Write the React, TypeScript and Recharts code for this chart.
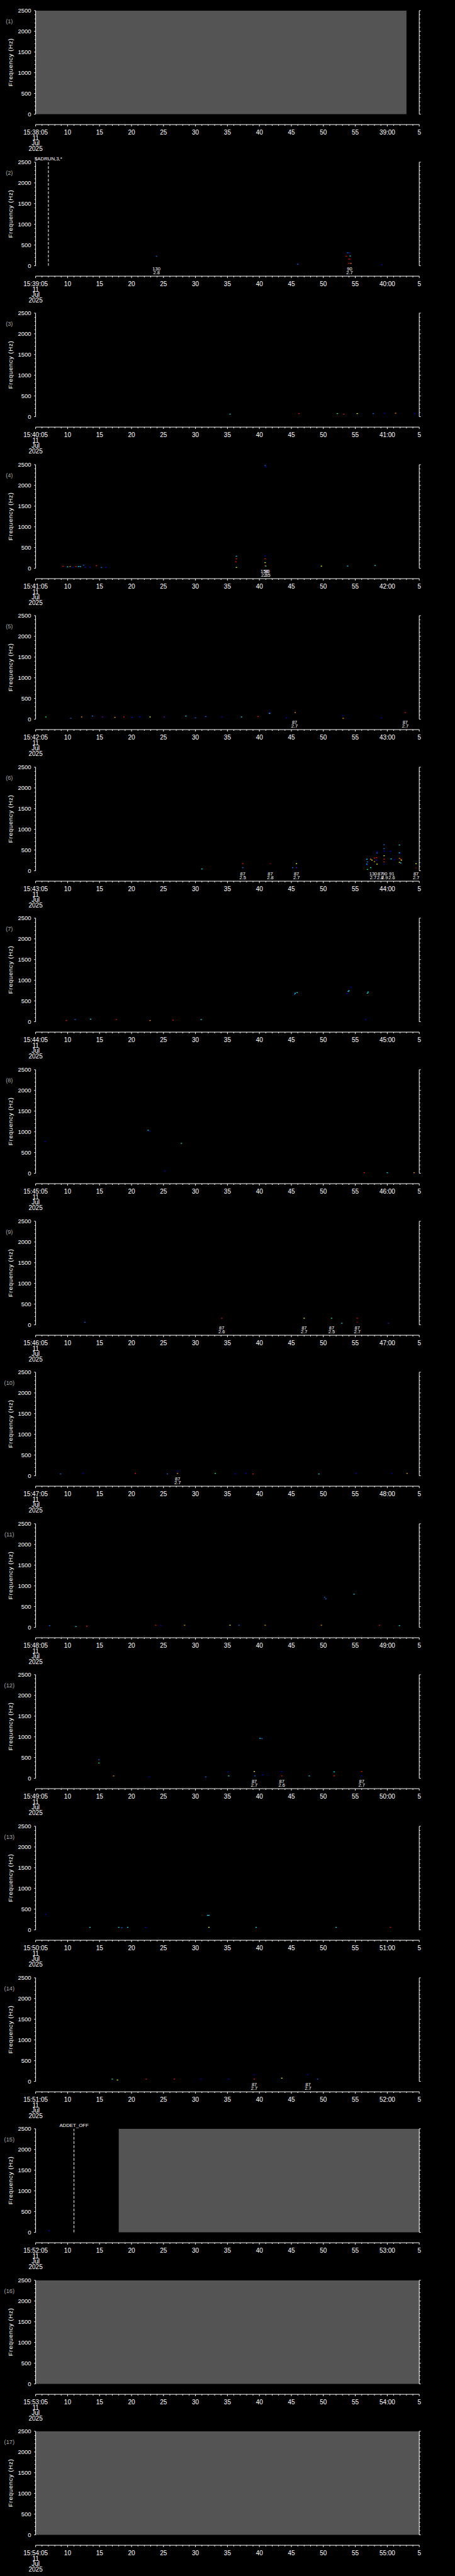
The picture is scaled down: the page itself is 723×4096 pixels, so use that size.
import React from 'react';
import { ScatterChart, Scatter, XAxis, YAxis, ReferenceArea, ReferenceLine } from 'recharts';

// everything is drawn at 0.705 of the 1024px wide original
const S = 0.705;
const W = 723;
const CH = 262;
const TOP = 24 * S;
const PLOT_H = 257 * S;
const FONT = "'Liberation Sans', Arial, sans-serif";

type Spot = [number, number, string];
type Note = [number, string, string];

const startMinutes: number[] = [38, 39, 40, 41, 42, 43, 44, 45, 46, 47, 48, 49, 50, 51, 52, 53, 54];
const xTicks: number[] = Array.from({ length: 61 }, (_, i) => 5 + i);
const yTicks: number[] = Array.from({ length: 26 }, (_, i) => i * 100);

// [panel, from, to] - no data (grey)
const greyBlocks: [number, number, number][] = [
  [1, 5, 63],
  [15, 18, 65],
  [16, 5, 65],
  [17, 5, 65],
];

// [panel, time, text] - dashed event markers
const markers: [number, number, string][] = [
  [2, 7, '$ADRUN,3,*'],
  [15, 11, 'ADDET_OFF'],
];

const jet: Record<string, string> = {
  b: '#0000f0',
  d: '#0070ff',
  c: '#00e8ff',
  g: '#00ff70',
  y: '#f0ff00',
  o: '#ff9000',
  r: '#ff1000',
  m: '#a00000',
  p: '#7000c0',
};

const spots2: Spot[] = [
  [23.9, 228, 'd'], [46.0, 36, 'd'], [53.8, 314, 'd'], [54.1, 314, 'b'], [53.6, 228, 'r'],
  [54.2, 236, 'c'], [54.0, 161, 'r'], [54.2, 157, 'm'], [54.0, 57, 'r'], [54.3, 57, 'o'], [59.2, 25, 'b'],
];
const spots3: Spot[] = [
  [35.4, 61, 'c'], [46.2, 75, 'r'], [52.2, 75, 'g'], [53.2, 61, 'r'], [55.3, 75, 'y'],
  [57.8, 75, 'd'], [59.6, 84, 'b'], [61.3, 84, 'o'], [64.3, 75, 'b'],
];
const spots4: Spot[] = [
  [9.3, 47, 'r'], [10.0, 33, 'c'], [10.4, 42, 'o'], [10.8, 23, 'b'], [11.3, 42, 'r'], [11.7, 42, 'c'],
  [12.0, 42, 'c'], [12.5, 75, 'd'], [12.8, 28, 'b'], [13.5, 28, 'b'], [14.5, 61, 'r'], [15.3, 19, 'd'],
  [16.0, 19, 'b'], [36.4, 290, 'c'], [36.4, 229, 'r'], [36.3, 159, 'r'], [36.4, 19, 'y'],
  [40.9, 2481, 'd'], [41.0, 2450, 'b'], [40.9, 295, 'b'], [40.9, 229, 'r'], [40.9, 136, 'y'],
  [40.9, 66, 'r'], [41.0, 51, 'c'], [49.7, 51, 'y'], [53.8, 51, 'c'], [58.1, 66, 'c'],
];
const spots5: Spot[] = [
  [6.6, 54, 'g'], [10.5, 21, 'd'], [12.2, 54, 'o'], [13.9, 75, 'd'], [15.5, 54, 'p'], [17.4, 43, 'o'],
  [18.8, 54, 'r'], [20.1, 43, 'b'], [21.3, 54, 'b'], [22.9, 54, 'y'], [25.1, 54, 'p'], [28.5, 75, 'c'],
  [30.0, 32, 'd'], [31.6, 64, 'd'], [34.1, 54, 'b'], [37.2, 54, 'c'], [39.8, 64, 'r'], [41.6, 160, 'b'],
  [41.6, 140, 'c'], [44.2, 32, 'b'], [45.6, 161, 'o'], [53.0, 86, 'b'], [53.1, 21, 'o'], [59.1, 32, 'b'],
  [62.8, 161, 'r'],
];
const spots6: Spot[] = [
  [31.0, 43, 'c'], [37.4, 171, 'r'], [37.4, 75, 'd'], [41.7, 171, 'm'], [45.8, 171, 'y'], [45.2, 75, 'd'],
  [45.8, 75, 'p'], [56.8, 278, 'c'], [56.9, 214, 'd'], [56.8, 160, 'c'], [56.8, 140, 'b'], [56.9, 32, 'g'],
  [57.4, 75, 'c'], [57.4, 278, 'o'], [57.6, 256, 'y'], [58.0, 306, 'r'], [58.0, 221, 'o'], [58.3, 317, 'r'],
  [58.3, 256, 'b'], [58.4, 160, 'y'], [58.4, 460, 'b'], [58.4, 430, 'd'], [59.5, 627, 'd'], [59.5, 534, 'd'],
  [59.5, 473, 'b'], [59.5, 363, 'y'], [59.5, 278, 'r'], [59.5, 214, 'r'], [59.5, 160, 'b'], [60.6, 285, 'c'],
  [60.5, 470, 'b'], [61.1, 267, 'b'], [61.9, 620, 'c'], [61.9, 434, 'c'], [62.0, 416, 'b'], [61.9, 299, 'o'],
  [62.1, 278, 'r'], [62.2, 256, 'y'], [61.9, 203, 'y'], [62.1, 189, 'c'], [64.5, 171, 'y'], [64.5, 64, 'm'],
];
const spots7: Spot[] = [
  [9.8, 28, 'r'], [11.2, 51, 'd'], [13.6, 61, 'c'], [17.6, 51, 'r'], [22.9, 28, 'o'], [26.5, 37, 'r'],
  [30.9, 51, 'c'], [45.5, 660, 'd'], [45.6, 688, 'c'], [45.9, 702, 'c'], [53.7, 679, 'b'], [53.9, 730, 'c'],
  [54.0, 749, 'c'], [54.3, 829, 'b'], [56.9, 688, 'c'], [57.0, 716, 'c'], [56.6, 51, 'b'],
];
const spots8: Spot[] = [
  [6.5, 772, 'b'], [22.6, 1039, 'c'], [22.8, 1011, 'b'], [27.8, 721, 'g'], [25.2, 51, 'b'],
  [56.4, 14, 'r'], [60.0, 14, 'c'], [64.2, 14, 'o'],
];
const spots9: Spot[] = [
  [12.7, 61, 'd'], [34.1, 159, 'r'], [47.0, 159, 'y'], [51.3, 159, 'g'], [52.9, 37, 'c'],
  [55.3, 159, 'r'], [55.3, 61, 'm'], [60.2, 37, 'p'],
];
const spots10: Spot[] = [
  [8.9, 42, 'd'], [12.4, 56, 'b'], [20.6, 56, 'r'], [25.6, 42, 'd'], [27.2, 117, 'b'], [27.2, 56, 'o'],
  [33.1, 56, 'g'], [36.2, 42, 'b'], [37.9, 56, 'b'], [39.0, 42, 'r'], [49.3, 42, 'c'], [55.1, 56, 'b'],
  [60.7, 56, 'b'], [63.1, 56, 'o'],
];
const spots11: Spot[] = [
  [7.2, 42, 'd'], [11.3, 19, 'c'], [13.0, 28, 'r'], [23.8, 51, 'r'], [24.6, 51, 'b'], [28.3, 51, 'o'],
  [35.4, 51, 'y'], [36.8, 51, 'd'], [40.9, 51, 'o'], [50.2, 726, 'd'], [50.4, 688, 'd'], [54.8, 800, 'c'],
  [49.7, 51, 'o'], [58.8, 51, 'r'], [61.9, 42, 'c'],
];
const spots12: Spot[] = [
  [14.9, 449, 'd'], [14.9, 369, 'g'], [17.2, 56, 'o'], [22.8, 33, 'b'], [31.6, 33, 'd'], [35.1, 154, 'b'],
  [35.2, 56, 'c'], [39.2, 164, 'y'], [39.3, 56, 'd'], [40.5, 79, 'b'], [40.1, 963, 'c'], [40.4, 958, 'd'],
  [43.5, 164, 'b'], [43.5, 56, 'r'], [47.8, 56, 'c'], [51.7, 154, 'c'], [51.7, 56, 'r'], [56.0, 164, 'r'],
  [56.0, 56, 'b'],
];
const spots13: Spot[] = [
  [6.6, 373, 'b'], [13.5, 61, 'c'], [18.0, 61, 'c'], [18.5, 51, 'd'], [19.4, 61, 'c'], [22.2, 61, 'b'],
  [31.9, 350, 'c'], [32.1, 350, 'c'], [32.1, 61, 'y'], [39.5, 61, 'c'], [52.0, 61, 'c'], [60.5, 61, 'r'],
];
const spots14: Spot[] = [
  [17.0, 56, 'g'], [17.8, 33, 'y'], [22.3, 56, 'r'], [26.7, 56, 'r'], [30.9, 56, 'b'], [35.2, 56, 'b'],
  [39.2, 163, 'b'], [39.2, 56, 'r'], [43.5, 79, 'y'], [47.6, 163, 'b'], [49.1, 56, 'd'],
];
const spots15: Spot[] = [[7.1, 36, 'b']];

const notes2: Note[] = [[23.9, '130', '2.8'], [54.1, '90', '2.7']];
const notes4: Note[] = [[40.8, '150', '2.3'], [41.2, '90', '2.5']];
const notes5: Note[] = [[45.5, '87', '2.7'], [62.8, '87', '2.7']];
const notes6: Note[] = [
  [37.4, '87', '2.5'], [41.7, '87', '2.8'], [45.8, '87', '2.7'], [57.8, '130', '2.7'],
  [58.9, '87', '2.8'], [59.6, '90', '2.9'], [60.7, '91', '2.6'], [64.5, '87', '2.7'],
];
const notes9: Note[] = [[34.1, '87', '2.6'], [47.0, '87', '2.7'], [51.3, '87', '2.5'], [55.3, '87', '2.7']];
const notes10: Note[] = [[27.2, '87', '2.7']];
const notes12: Note[] = [[39.2, '87', '2.7'], [43.5, '87', '2.6'], [56.0, '87', '2.7']];
const notes14: Note[] = [[39.2, '87', '2.7'], [47.6, '87', '2.7']];

const allSpots: Spot[][] = [
  [], spots2, spots3, spots4, spots5, spots6, spots7, spots8, spots9,
  spots10, spots11, spots12, spots13, spots14, spots15, [], [],
];
const allNotes: Note[][] = [
  [], notes2, [], notes4, notes5, notes6, [], [], notes9,
  notes10, [], notes12, [], notes14, [], [], [],
];

function xLabel(v: number, minute: number): string {
  if (v === 5) return `15:${minute}:05`;
  if (v === 60) return `${minute + 1}:00`;
  if (v === 65) return '5';
  return String(v);
}

function XTick(props: any) {
  const { x, y, payload, minute } = props;
  const v = payload.value;
  const major = v % 5 === 0;
  const txt = { fill: '#fff', fontSize: 10, fontFamily: FONT, textAnchor: 'middle' as const };
  return (
    <g>
      <line x1={x} x2={x} y1={y} y2={y + (major ? 3 : 1.9)} stroke="#fff" strokeWidth={1} />
      {major && <text x={x} y={y + 16.2} {...txt}>{xLabel(v, minute)}</text>}
      {v === 5 && <text x={x} y={y + 24.6} {...txt}>11</text>}
      {v === 5 && <text x={x} y={y + 33} {...txt}>Jul</text>}
      {v === 5 && <text x={x} y={y + 41.4} {...txt}>2025</text>}
    </g>
  );
}

function LeftTick(props: any) {
  const { x, y, payload } = props;
  const major = payload.value % 500 === 0;
  return (
    <g>
      <line x1={x} x2={x - (major ? 2.4 : 1.6)} y1={y} y2={y} stroke="#fff" strokeWidth={1} />
      {major && (
        <text x={x - 7} y={y + 3.3} textAnchor="end" fill="#fff" fontSize={9.5} fontFamily={FONT}>
          {payload.value}
        </text>
      )}
    </g>
  );
}

function RightTick(props: any) {
  const { x, y, payload } = props;
  const major = payload.value % 500 === 0;
  return <line x1={x} x2={x + (major ? 2.4 : 1.6)} y1={y} y2={y} stroke="#fff" strokeWidth={1} />;
}

function Panel({ idx }: { idx: number }) {
  const minute = startMinutes[idx];
  const spots = allSpots[idx].map(([t, f, c]) => ({ t, f, c }));
  const notes = allNotes[idx].map(([t, a, b]) => ({ t, f: 0, a, b }));
  const greys = greyBlocks.filter((g) => g[0] === idx + 1);
  const marks = markers.filter((m) => m[0] === idx + 1);

  const sideLabels = () => (
    <g fontFamily={FONT}>
      <text
        transform={`translate(16.2, ${TOP + 82}) rotate(-90)`}
        textAnchor="middle"
        dominantBaseline="central"
        fill="#fff"
        fontSize={9.9}
        letterSpacing={0.6}
      >
        Frequency (Hz)
      </text>
      <text x={14.8} y={TOP + 20.5} textAnchor="middle" fill="#aaaaaa" fontSize={9.2}>
        ({idx + 1})
      </text>
    </g>
  );

  return (
    <div style={{ position: 'absolute', left: 0, top: Math.round(idx * 341.25 * S), width: W, height: CH }}>
      <ScatterChart width={W} height={CH} margin={{ top: TOP, right: 36.8, bottom: 0, left: 6.6 }}>
        <XAxis
          type="number"
          dataKey="t"
          domain={[5, 65]}
          ticks={xTicks}
          interval={0}
          allowDataOverflow
          height={CH - TOP - PLOT_H}
          axisLine={{ stroke: '#fff', strokeWidth: 1 }}
          tickLine={false}
          tickSize={0}
          tickMargin={0}
          tick={(p: any) => <XTick {...p} minute={minute} />}
        />
        <YAxis
          type="number"
          dataKey="f"
          domain={[-251.6, 2500]}
          ticks={yTicks}
          interval={0}
          allowDataOverflow
          width={50}
          axisLine={false}
          tickLine={false}
          tickSize={0}
          tickMargin={0}
          tick={LeftTick}
          label={{ content: sideLabels }}
        />
        <YAxis
          yAxisId="r"
          orientation="right"
          type="number"
          domain={[-251.6, 2500]}
          ticks={yTicks}
          interval={0}
          allowDataOverflow
          width={20}
          axisLine={false}
          tickLine={false}
          tickSize={0}
          tickMargin={0}
          tick={RightTick}
        />
        {greys.map((g, i) => (
          <ReferenceArea
            key={`g${i}`}
            x1={g[1]}
            x2={g[2]}
            y1={0}
            y2={2500}
            fill="#545454"
            fillOpacity={1}
            stroke="none"
          />
        ))}
        <ReferenceLine segment={[{ x: 5, y: 0 }, { x: 5, y: 2500 }]} stroke="#fff" strokeWidth={1} />
        <ReferenceLine segment={[{ x: 65, y: 0 }, { x: 65, y: 2500 }]} stroke="#fff" strokeWidth={1} />
        {marks.map((m, i) => (
          <ReferenceLine
            key={`m${i}`}
            segment={[{ x: m[1], y: 0 }, { x: m[1], y: 2500 }]}
            stroke="#fff"
            strokeWidth={1}
            strokeDasharray="4.2 2.5"
            label={{ value: m[2], position: 'top', offset: 3, fill: '#fff', fontSize: 7.8, fontFamily: FONT }}
          />
        ))}
        <Scatter
          data={spots}
          isAnimationActive={false}
          shape={(p: any) => (
            <rect x={p.cx - 1} y={p.cy - 0.65} width={2} height={1.3} fill={jet[p.payload.c]} />
          )}
        />
        <Scatter
          data={notes}
          isAnimationActive={false}
          shape={(p: any) => (
            <g fontFamily={FONT} fontSize={7.5} fill="#fff" textAnchor="middle">
              <text x={p.cx} y={p.cy + 7.3}>{p.payload.a}</text>
              <text x={p.cx} y={p.cy + 13.7}>{p.payload.b}</text>
            </g>
          )}
        />
      </ScatterChart>
    </div>
  );
}

export default function App() {
  return (
    <div
      style={{
        position: 'absolute',
        left: 0,
        top: 0,
        width: W,
        height: 4096,
        background: '#000',
        overflow: 'hidden',
      }}
    >
      {startMinutes.map((_, i) => (
        <Panel key={i} idx={i} />
      ))}
    </div>
  );
}
